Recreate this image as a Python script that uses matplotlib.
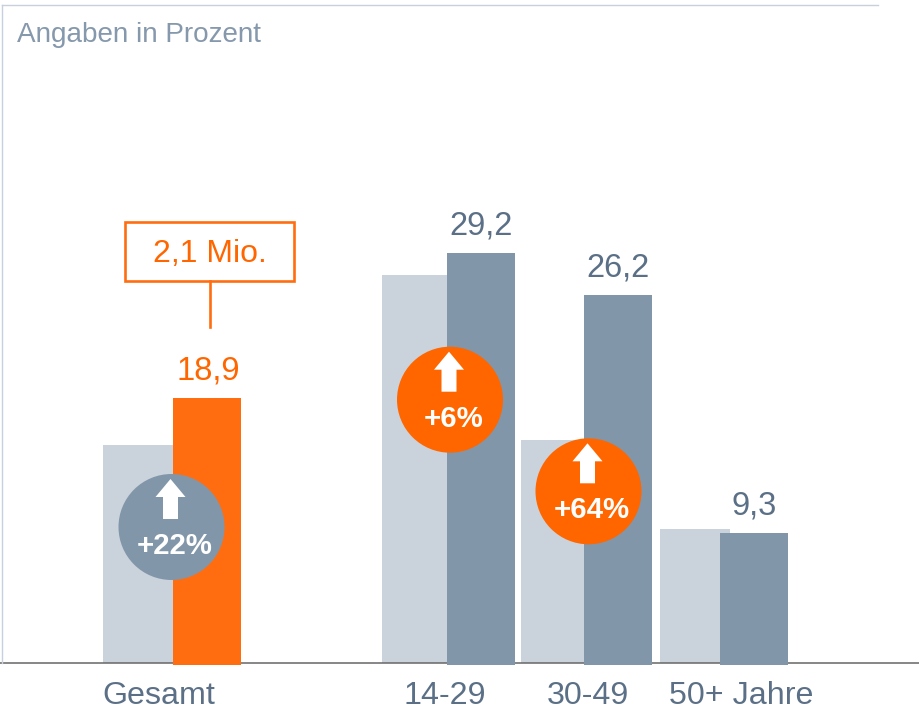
import matplotlib
matplotlib.use("Agg")
import matplotlib.pyplot as plt
from matplotlib.patches import Polygon, Rectangle

plt.rcParams['font.family'] = ['Liberation Sans', 'DejaVu Sans']

categories = ["Gesamt", "14-29", "30-49", "50+ Jahre"]
previous_values = [15.5, 27.6, 15.9, 9.55]
current_values = [18.9, 29.2, 26.2, 9.3]
change_labels = ["+22%", "+6%", "+64%"]
unit_note = "Angaben in Prozent"
callout_label = "2,1 Mio."

LIGHT, SLATE, ORANGE, BAR_ORANGE = "#CAD2DC", "#8296AA", "#FF6600", "#FF6D10"
TEXT_SLATE, NOTE, FRAME, BASE = "#5B7087", "#8598AC", "#C8D0DC", "#666666"

W, H = 920, 710
BASE_Y, TOP_Y = 663.3, 5
PX_PER_UNIT = 14.06
prev_left = [103, 382, 521, 660]
prev_width = 70
curr_left = [173, 447, 584, 720]
curr_width = 68.3
cat_x = [159, 445, 588, 741]
label_dx = [1, -0.5, -0.5, 0]
current_colors = [BAR_ORANGE, SLATE, SLATE, SLATE]
label_colors = [ORANGE, TEXT_SLATE, TEXT_SLATE, TEXT_SLATE]
badges = [(171.5, 527, SLATE), (450, 399.7, ORANGE), (588.5, 491.3, ORANGE)]
badge_text_dx = [3, 3.5, 3.5]

fig = plt.figure(figsize=(W / 100, H / 100), dpi=100, facecolor="white")
ax = fig.add_axes([0, 1 - BASE_Y / H, 1, (BASE_Y - TOP_Y) / H])
ax.set_xlim(0, W)
ax.set_ylim(0, (BASE_Y - TOP_Y) / PX_PER_UNIT)
ax.axis("off")

ax.bar(prev_left, previous_values, width=prev_width, align="edge", color=LIGHT, zorder=2)
ax.axhline(0, color=BASE, lw=1.1, zorder=3, clip_on=False)
sink = 0.11
ax.bar(curr_left, [v + sink for v in current_values], bottom=-sink, width=curr_width,
       align="edge", color=current_colors, zorder=4, clip_on=False)

for x, v, c, dx in zip(curr_left, current_values, label_colors, label_dx):
    ax.annotate(f"{v:.1f}".replace(".", ","), (x + curr_width / 2 + dx, v),
                xytext=(0, 13), textcoords="offset points", ha="center", va="baseline",
                fontsize=23.5, color=c, zorder=6)

# overlay in pixel units for frame, callout, badges and category labels
ov = fig.add_axes([0, 0, 1, 1], facecolor="none")
ov.set_xlim(0, W)
ov.set_ylim(H, 0)
ov.axis("off")

ov.plot([2, 878], [TOP_Y, TOP_Y], color=FRAME, lw=1.0)
ov.plot([2, 2], [TOP_Y, BASE_Y], color=FRAME, lw=1.0)
ov.text(17, 35.5, unit_note, fontsize=20.1, color=NOTE, ha="left", va="center")

ov.add_patch(Rectangle((125.5, 222), 169, 59, fill=False, ec=BAR_ORANGE, lw=1.9))
ov.plot([210, 210], [281, 327], color=BAR_ORANGE, lw=1.9)
ov.text(210, 253.5, callout_label, fontsize=23, color=ORANGE, ha="center", va="center")

D = 106
ov.scatter([b[0] for b in badges], [b[1] for b in badges], s=(D * 0.72) ** 2,
           c=[b[2] for b in badges], linewidths=0, zorder=7)
for (cx, cy, _), lab, dx in zip(badges, change_labels, badge_text_dx):
    t = cy - 48
    ax_dx = -1
    ov.add_patch(Polygon([(cx + ax_dx, t), (cx + ax_dx + 15, t + 18), (cx + ax_dx + 7.5, t + 18),
                          (cx + ax_dx + 7.5, t + 40), (cx + ax_dx - 7.5, t + 40),
                          (cx + ax_dx - 7.5, t + 18), (cx + ax_dx - 15, t + 18)],
                         closed=True, fc="white", ec="none", zorder=8))
    ov.text(cx + dx, cy + 19, lab, fontsize=21.2, fontweight="bold", color="white",
            ha="center", va="center", zorder=9)

for x, lab in zip(cat_x, categories):
    ov.text(x, 696, lab, fontsize=23.2, color=TEXT_SLATE, ha="center", va="center")

fig.savefig("out.png", dpi=100, facecolor="white")
